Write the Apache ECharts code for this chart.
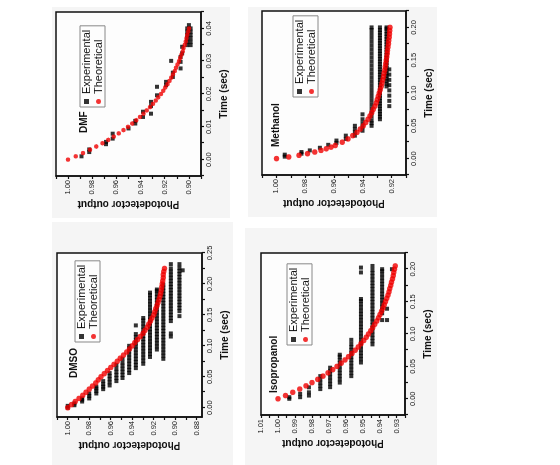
<!DOCTYPE html>
<html>
<head>
<meta charset="utf-8">
<script src="https://cdn.jsdelivr.net/npm/echarts@6/dist/echarts.min.js"></script>
<style>
  html, body { margin: 0; padding: 0; background: #fff; }
  #wrap { position: relative; width: 560px; height: 465px; overflow: hidden; background: #fff; }
  .panel { position: absolute; background: #f5f5f5; }
  /* the figure is drawn upright and turned a quarter turn to the left */
  #chart { position: absolute; left: 0; top: 0; width: 465px; height: 560px;
           transform-origin: 0 0; transform: translate(0, 465px) rotate(-90deg); }
</style>
</head>
<body>
<div id="wrap">
  <div class="panel" style="left:52px;top:7px;width:178px;height:211px"></div>
  <div class="panel" style="left:52px;top:222px;width:181px;height:243px"></div>
  <div class="panel" style="left:248px;top:7px;width:189px;height:210px"></div>
  <div class="panel" style="left:245px;top:228px;width:192px;height:237px"></div>
  <div id="chart"></div>
</div>
<script>
  var FONT = 'Liberation Sans, Arial, sans-serif';

  // ---- tick labels ----
  var dmfTimeTicks = [-0.005, 0, 0.005, 0.01, 0.015, 0.02, 0.025, 0.03, 0.035, 0.04, 0.045];
  var dmfTimeLabels = [0, 0.01, 0.02, 0.03, 0.04];
  var dmfOutTicks = [0.89, 0.90, 0.91, 0.92, 0.93, 0.94, 0.95, 0.96, 0.97, 0.98, 0.99, 1.00, 1.01];
  var dmfOutLabels = [0.90, 0.92, 0.94, 0.96, 0.98, 1.00];

  var dmsoTimeTicks = [0, 0.025, 0.05, 0.075, 0.1, 0.125, 0.15, 0.175, 0.2, 0.225, 0.25];
  var dmsoTimeLabels = [0, 0.05, 0.1, 0.15, 0.2, 0.25];
  var dmsoOutTicks = [0.88, 0.89, 0.90, 0.91, 0.92, 0.93, 0.94, 0.95, 0.96, 0.97, 0.98, 0.99, 1.00, 1.01];
  var dmsoOutLabels = [0.88, 0.90, 0.92, 0.94, 0.96, 0.98, 1.00];

  var methTimeTicks = [-0.025, 0, 0.025, 0.05, 0.075, 0.1, 0.125, 0.15, 0.175, 0.2, 0.225];
  var methTimeLabels = [0, 0.05, 0.1, 0.15, 0.2];
  var methOutTicks = [0.91, 0.92, 0.93, 0.94, 0.95, 0.96, 0.97, 0.98, 0.99, 1.00, 1.01];
  var methOutLabels = [0.92, 0.94, 0.96, 0.98, 1.00];

  var isoTimeTicks = [-0.025, 0, 0.025, 0.05, 0.075, 0.1, 0.125, 0.15, 0.175, 0.2, 0.225];
  var isoTimeLabels = [0, 0.05, 0.1, 0.15, 0.2];
  var isoOutTicks = [0.925, 0.93, 0.935, 0.94, 0.945, 0.95, 0.955, 0.96, 0.965, 0.97, 0.975,
                     0.98, 0.985, 0.99, 0.995, 1.00, 1.005, 1.01];
  var isoOutLabels = [0.93, 0.94, 0.95, 0.96, 0.97, 0.98, 0.99, 1.00, 1.01];

  // ---- DMF : [time, output] ----
  var dmfExp = [[0.0010,0.9889],[0.0023,0.9825],[0.0031,0.9825],[0.0047,0.9686],[0.0054,0.9686],
    [0.0064,0.9631],[0.0079,0.9631],[0.0095,0.9500],[0.0110,0.9444],[0.0118,0.9444],
    [0.0130,0.9380],[0.0146,0.9380],[0.0140,0.9314],[0.0163,0.9314],[0.0176,0.9314],
    [0.0196,0.9264],[0.0222,0.9264],[0.0227,0.9189],[0.0237,0.9189],[0.0252,0.9133],
    [0.0265,0.9133],[0.0301,0.9147],[0.0278,0.9069],[0.0298,0.9069],[0.0313,0.9069],
    [0.0324,0.9056],[0.0344,0.9056],[0.0410,0.9000],
    [0.0349,0.9014],[0.0359,0.9014],[0.0370,0.9014],[0.0380,0.9014],[0.0390,0.9014],[0.0400,0.9014],
    [0.0349,0.8986],[0.0359,0.8986],[0.0370,0.8986],[0.0380,0.8986],[0.0390,0.8986],[0.0400,0.8986]];
  var dmfTheo = [[0,1.0000],[0.001,0.9936],[0.002,0.9876],[0.003,0.9819],[0.004,0.9766],[0.005,0.9715],
    [0.006,0.9668],[0.007,0.9623],[0.008,0.9581],[0.009,0.9542],[0.010,0.9504],[0.011,0.9469],
    [0.012,0.9436],[0.013,0.9405],[0.014,0.9376],[0.015,0.9348],[0.016,0.9322],[0.017,0.9297],
    [0.018,0.9274],[0.019,0.9253],[0.020,0.9232],[0.021,0.9213],[0.022,0.9195],[0.023,0.9178],
    [0.024,0.9161],[0.025,0.9146],[0.026,0.9132],[0.027,0.9118],[0.028,0.9106],[0.029,0.9094],
    [0.030,0.9082],[0.031,0.9072],[0.032,0.9062],[0.033,0.9052],[0.034,0.9044],[0.035,0.9035],
    [0.036,0.9027],[0.037,0.9020],[0.038,0.9013],[0.039,0.9006],[0.040,0.9000]];

  // ---- DMSO : experimental columns [output, [times]] ----
  var dmsoExpCols = [
    [1.000, [0.000, 0.003]],
    [0.9938, [0.004, 0.007]],
    [0.9866, [0.010, 0.013, 0.015]],
    [0.980, [0.015, 0.019, 0.023]],
    [0.9734, [0.023, 0.027, 0.031, 0.034]],
    [0.967, [0.030, 0.034, 0.038, 0.043]],
    [0.961, [0.036, 0.041, 0.046, 0.051, 0.056]],
    [0.9547, [0.043, 0.048, 0.053, 0.058, 0.063, 0.069]],
    [0.949, [0.048, 0.053, 0.058, 0.063, 0.068, 0.073, 0.079]],
    [0.9428, [0.056, 0.061, 0.066, 0.071, 0.076, 0.081, 0.086, 0.091, 0.096, 0.100]],
    [0.9366, [0.064, 0.069, 0.074, 0.079, 0.084, 0.089, 0.094, 0.099, 0.104, 0.109, 0.114, 0.119, 0.133]],
    [0.9297, [0.071, 0.076, 0.081, 0.086, 0.091, 0.096, 0.101, 0.106, 0.111, 0.116, 0.121, 0.126,
              0.131, 0.136, 0.141, 0.145]],
    [0.9234, [0.082, 0.087, 0.092, 0.097, 0.102, 0.107, 0.112, 0.117, 0.122, 0.127, 0.132, 0.137,
              0.142, 0.147, 0.152, 0.157, 0.162, 0.167, 0.172, 0.177, 0.182, 0.186]],
    [0.917, [0.094, 0.099, 0.104, 0.109, 0.114, 0.119, 0.124, 0.129, 0.134, 0.139, 0.144, 0.149,
             0.154, 0.159, 0.164, 0.169, 0.174, 0.179, 0.184, 0.189, 0.191]],
    [0.911, [0.079, 0.084, 0.089, 0.094, 0.099, 0.104, 0.109, 0.114, 0.119, 0.124, 0.129, 0.134,
             0.139, 0.144, 0.149, 0.154, 0.159, 0.164, 0.169, 0.174, 0.179, 0.184, 0.189, 0.194, 0.199]],
    [0.904, [0.115, 0.120, 0.140, 0.145, 0.150, 0.155, 0.160, 0.165, 0.170, 0.175, 0.180, 0.185,
             0.190, 0.195, 0.200, 0.205, 0.210, 0.215, 0.220, 0.225, 0.232]],
    [0.896, [0.148, 0.156, 0.161, 0.166, 0.171, 0.176, 0.181, 0.186, 0.191, 0.196, 0.201, 0.206,
             0.211, 0.216, 0.221, 0.226, 0.232]],
    [0.893, [0.222]]
  ];
  var dmsoTheo = [[0,1.000],[0.005,0.9965],[0.010,0.993],[0.015,0.9895],[0.020,0.986],[0.025,0.983],
    [0.030,0.980],[0.035,0.977],[0.040,0.974],[0.045,0.9715],[0.050,0.969],[0.055,0.966],
    [0.060,0.963],[0.065,0.960],[0.070,0.957],[0.075,0.954],[0.080,0.951],[0.085,0.948],
    [0.090,0.945],[0.095,0.9425],[0.100,0.940],[0.105,0.9375],[0.110,0.935],[0.115,0.9325],
    [0.120,0.930],[0.125,0.928],[0.130,0.926],[0.135,0.9245],[0.140,0.923],[0.145,0.9215],
    [0.150,0.920],[0.155,0.919],[0.160,0.918],[0.165,0.917],[0.170,0.916],[0.175,0.915],
    [0.180,0.914],[0.185,0.9135],[0.190,0.913],[0.195,0.9125],[0.200,0.912],[0.205,0.9115],
    [0.210,0.911],[0.215,0.911],[0.220,0.9105],[0.225,0.910]];

  // ---- Methanol ----
  var methExpCols = [
    [0.9942, [0.003, 0.006]],
    [0.9826, [0.0075, 0.010]],
    [0.9768, [0.0125]],
    [0.9698, [0.0165]],
    [0.964, [0.021]],
    [0.9583, [0.024, 0.0275]],
    [0.9518, [0.030, 0.035]],
    [0.9455, [0.035, 0.040, 0.045, 0.050]],
    [0.9402, [0.0425, 0.048, 0.054, 0.060, 0.0675]],
    [0.9339, [0.050, 0.054, 0.058, 0.064, 0.070, 0.076, 0.082, 0.088, 0.094, 0.100, 0.106, 0.112,
              0.118, 0.124, 0.130, 0.136, 0.142, 0.148, 0.154, 0.160, 0.166, 0.172, 0.178, 0.184,
              0.190, 0.196, 0.200]],
    [0.9281, [0.060, 0.064, 0.068, 0.072, 0.076, 0.080, 0.084, 0.088, 0.092, 0.096, 0.100, 0.104,
              0.108, 0.112, 0.116, 0.120, 0.124, 0.128, 0.132, 0.136, 0.140, 0.144, 0.148, 0.152,
              0.156, 0.160, 0.164, 0.168, 0.172, 0.176, 0.180, 0.184, 0.188, 0.192, 0.196, 0.200]],
    [0.9235, [0.110, 0.114, 0.118, 0.122, 0.126, 0.130, 0.134, 0.138, 0.142, 0.146, 0.150, 0.154,
              0.158, 0.162, 0.166, 0.170, 0.174, 0.178, 0.182, 0.186, 0.190, 0.194, 0.198, 0.200]],
    [0.9216, [0.080, 0.088, 0.096, 0.104, 0.112, 0.120, 0.128, 0.136]]
  ];
  var methTheo = [[0,1.0000],[0.0025,0.9914],[0.005,0.9843],[0.0075,0.9784],[0.010,0.9733],
    [0.0125,0.9690],[0.015,0.9653],[0.0175,0.9620],[0.020,0.9591],[0.025,0.9542],[0.030,0.9502],
    [0.035,0.9469],[0.040,0.9441],[0.045,0.9418],[0.050,0.9397],[0.055,0.9380],[0.060,0.9364],
    [0.065,0.9350],[0.070,0.9338],[0.075,0.9327],[0.080,0.9316],[0.085,0.9307],[0.090,0.9299],
    [0.095,0.9292],[0.100,0.9285],[0.105,0.9278],[0.110,0.9272],[0.115,0.9267],[0.120,0.9262],
    [0.125,0.9257],[0.130,0.9252],[0.135,0.9248],[0.140,0.9244],[0.145,0.9240],[0.150,0.9237],
    [0.155,0.9234],[0.160,0.9231],[0.165,0.9228],[0.170,0.9225],[0.175,0.9222],[0.180,0.9220],
    [0.185,0.9217],[0.190,0.9215],[0.195,0.9213],[0.200,0.9211]];

  // ---- Isopropanol ----
  var isoExpCols = [
    [0.9933, [0.000, 0.0025]],
    [0.9869, [0.0025, 0.0076]],
    [0.9817, [0.005, 0.010, 0.0177]],
    [0.975, [0.015, 0.020, 0.025, 0.030, 0.035]],
    [0.9692, [0.018, 0.023, 0.028, 0.033, 0.038, 0.043, 0.048]],
    [0.9635, [0.025, 0.030, 0.035, 0.040, 0.045, 0.050, 0.055, 0.060, 0.065, 0.068]],
    [0.9567, [0.035, 0.040, 0.045, 0.050, 0.055, 0.060, 0.065, 0.070, 0.075, 0.080, 0.085, 0.091]],
    [0.951, [0.056, 0.061, 0.066, 0.071, 0.076, 0.081, 0.086, 0.091, 0.096, 0.101, 0.106, 0.111,
             0.116, 0.121, 0.126, 0.131, 0.136, 0.141, 0.146, 0.151, 0.154, 0.195, 0.2025]],
    [0.9442, [0.084, 0.089, 0.094, 0.099, 0.104, 0.109, 0.114, 0.119, 0.124, 0.129, 0.134, 0.139,
              0.144, 0.149, 0.154, 0.159, 0.164, 0.169, 0.174, 0.179, 0.184, 0.189, 0.194, 0.199, 0.205]],
    [0.9385, [0.1215, 0.132, 0.137, 0.142, 0.147, 0.152, 0.157, 0.162, 0.167, 0.172, 0.177, 0.182,
              0.187, 0.192, 0.197, 0.200]],
    [0.9356, [0.1215, 0.139]],
    [0.9327, [0.200]]
  ];
  var isoTheo = [[0,1.0000],[0.005,0.9955],[0.010,0.9912],[0.015,0.9872],[0.020,0.9834],[0.025,0.9799],
    [0.030,0.9765],[0.035,0.9734],[0.040,0.9705],[0.045,0.9677],[0.050,0.9651],[0.055,0.9627],
    [0.060,0.9604],[0.065,0.9583],[0.070,0.9563],[0.075,0.9544],[0.080,0.9526],[0.085,0.9509],
    [0.090,0.9494],[0.095,0.9479],[0.100,0.9465],[0.105,0.9452],[0.110,0.9440],[0.115,0.9428],
    [0.120,0.9417],[0.125,0.9407],[0.130,0.9398],[0.135,0.9389],[0.140,0.9380],[0.145,0.9372],
    [0.150,0.9365],[0.155,0.9358],[0.160,0.9351],[0.165,0.9345],[0.170,0.9340],[0.175,0.9334],
    [0.180,0.9329],[0.185,0.9324],[0.190,0.9320],[0.195,0.9316],[0.200,0.9312],[0.205,0.9308]];

  function flatCols(list) {
    var out = [];
    list.forEach(function (c) {
      c[1].forEach(function (t) { out.push([t, c[0]]); });
    });
    return out;
  }

  // layout in the upright (unturned) frame
  var panels = [
    { title: 'DMF', titlePos: [332, 79], grid: { left: 289, top: 56, width: 164, height: 145 },
      tRange: [-0.005, 0.045], oRange: [0.89, 1.01],
      tTicks: dmfTimeTicks, tLabels: dmfTimeLabels, oTicks: dmfOutTicks, oLabels: dmfOutLabels,
      exp: dmfExp, theo: dmfTheo, theoSize: 4.5, legendPos: [358, 80] },
    { title: 'DMSO', titlePos: [87, 69], grid: { left: 48, top: 57, width: 164, height: 145 },
      tRange: [-0.015, 0.25], oRange: [0.875, 1.01],
      tTicks: dmsoTimeTicks, tLabels: dmsoTimeLabels, oTicks: dmsoOutTicks, oLabels: dmsoOutLabels,
      exp: flatCols(dmsoExpCols), theo: dmsoTheo, theoSize: 5.5, legendPos: [123, 75] },
    { title: 'Methanol', titlePos: [318, 271], grid: { left: 290, top: 262, width: 164, height: 144 },
      tRange: [-0.025, 0.225], oRange: [0.91, 1.01],
      tTicks: methTimeTicks, tLabels: methTimeLabels, oTicks: methOutTicks, oLabels: methOutLabels,
      exp: flatCols(methExpCols), theo: methTheo, theoSize: 5.5, legendPos: [368, 293] },
    { title: 'Isopropanol', titlePos: [72, 269], grid: { left: 50, top: 261, width: 162, height: 144 },
      tRange: [-0.025, 0.225], oRange: [0.925, 1.01],
      tTicks: isoTimeTicks, tLabels: isoTimeLabels, oTicks: isoOutTicks, oLabels: isoOutLabels,
      exp: flatCols(isoExpCols), theo: isoTheo, theoSize: 5.5, legendPos: [120, 287] }
  ];

  var lineStyle = { color: '#111', width: 1.5 };
  var fmt = function (v) { return v.toFixed(2); };

  var option = {
    animation: false,
    textStyle: { fontFamily: FONT },
    title: panels.map(function (p) {
      return { text: p.title, left: p.titlePos[0], top: p.titlePos[1], padding: 0,
               textStyle: { fontSize: 10, fontWeight: 'bold', color: '#111', fontFamily: FONT } };
    }),
    legend: panels.map(function (p) {
      return {
        orient: 'vertical', left: p.legendPos[0], top: p.legendPos[1],
        data: [{ name: 'Experimental', icon: 'rect' }, { name: 'Theoretical', icon: 'circle' }],
        itemWidth: 5, itemHeight: 5, itemGap: 1, padding: [1, 4, 1, 3],
        borderColor: '#888', borderWidth: 1, selectedMode: false,
        textStyle: { fontSize: 11, color: '#111', fontFamily: FONT }
      };
    }),
    grid: panels.map(function (p) {
      return { left: p.grid.left, top: p.grid.top, width: p.grid.width, height: p.grid.height,
               show: true, borderColor: '#111', borderWidth: 1.5, backgroundColor: '#fdfdfd' };
    }),
    xAxis: panels.map(function (p, i) {
      return {
        type: 'value', gridIndex: i, min: p.tRange[0], max: p.tRange[1],
        axisLine: { onZero: false, lineStyle: lineStyle },
        axisTick: { customValues: p.tTicks, length: 3, lineStyle: { color: '#111', width: 1.2 } },
        axisLabel: { customValues: p.tLabels, formatter: fmt, fontSize: 7.5, color: '#222', margin: 4 },
        splitLine: { show: false },
        name: 'Time (sec)', nameLocation: 'middle', nameGap: 18,
        nameTextStyle: { fontSize: 10, fontWeight: 'bold', color: '#111' }
      };
    }),
    yAxis: panels.map(function (p, i) {
      return {
        type: 'value', gridIndex: i, min: p.oRange[0], max: p.oRange[1],
        axisLine: { onZero: false, lineStyle: lineStyle },
        axisTick: { customValues: p.oTicks, length: 3, lineStyle: { color: '#111', width: 1.2 } },
        axisLabel: { customValues: p.oLabels, formatter: fmt, fontSize: 7.5, color: '#222', margin: 4 },
        splitLine: { show: false },
        name: 'Photodetector output', nameLocation: 'middle', nameGap: 23,
        nameTextStyle: { fontSize: 10, fontWeight: 'bold', color: '#111' }
      };
    }),
    series: []
  };

  panels.forEach(function (p, i) {
    option.series.push({
      type: 'scatter', name: 'Experimental', xAxisIndex: i, yAxisIndex: i,
      data: p.exp, symbol: 'rect', symbolSize: 4, itemStyle: { color: '#000' }, silent: true, z: 2
    });
    option.series.push({
      type: 'scatter', name: 'Theoretical', xAxisIndex: i, yAxisIndex: i,
      data: p.theo, symbol: 'circle', symbolSize: p.theoSize, itemStyle: { color: '#f00000' }, silent: true, z: 3
    });
  });

  var chart = echarts.init(document.getElementById('chart'), null, { width: 465, height: 560 });
  chart.setOption(option);
</script>
</body>
</html>
